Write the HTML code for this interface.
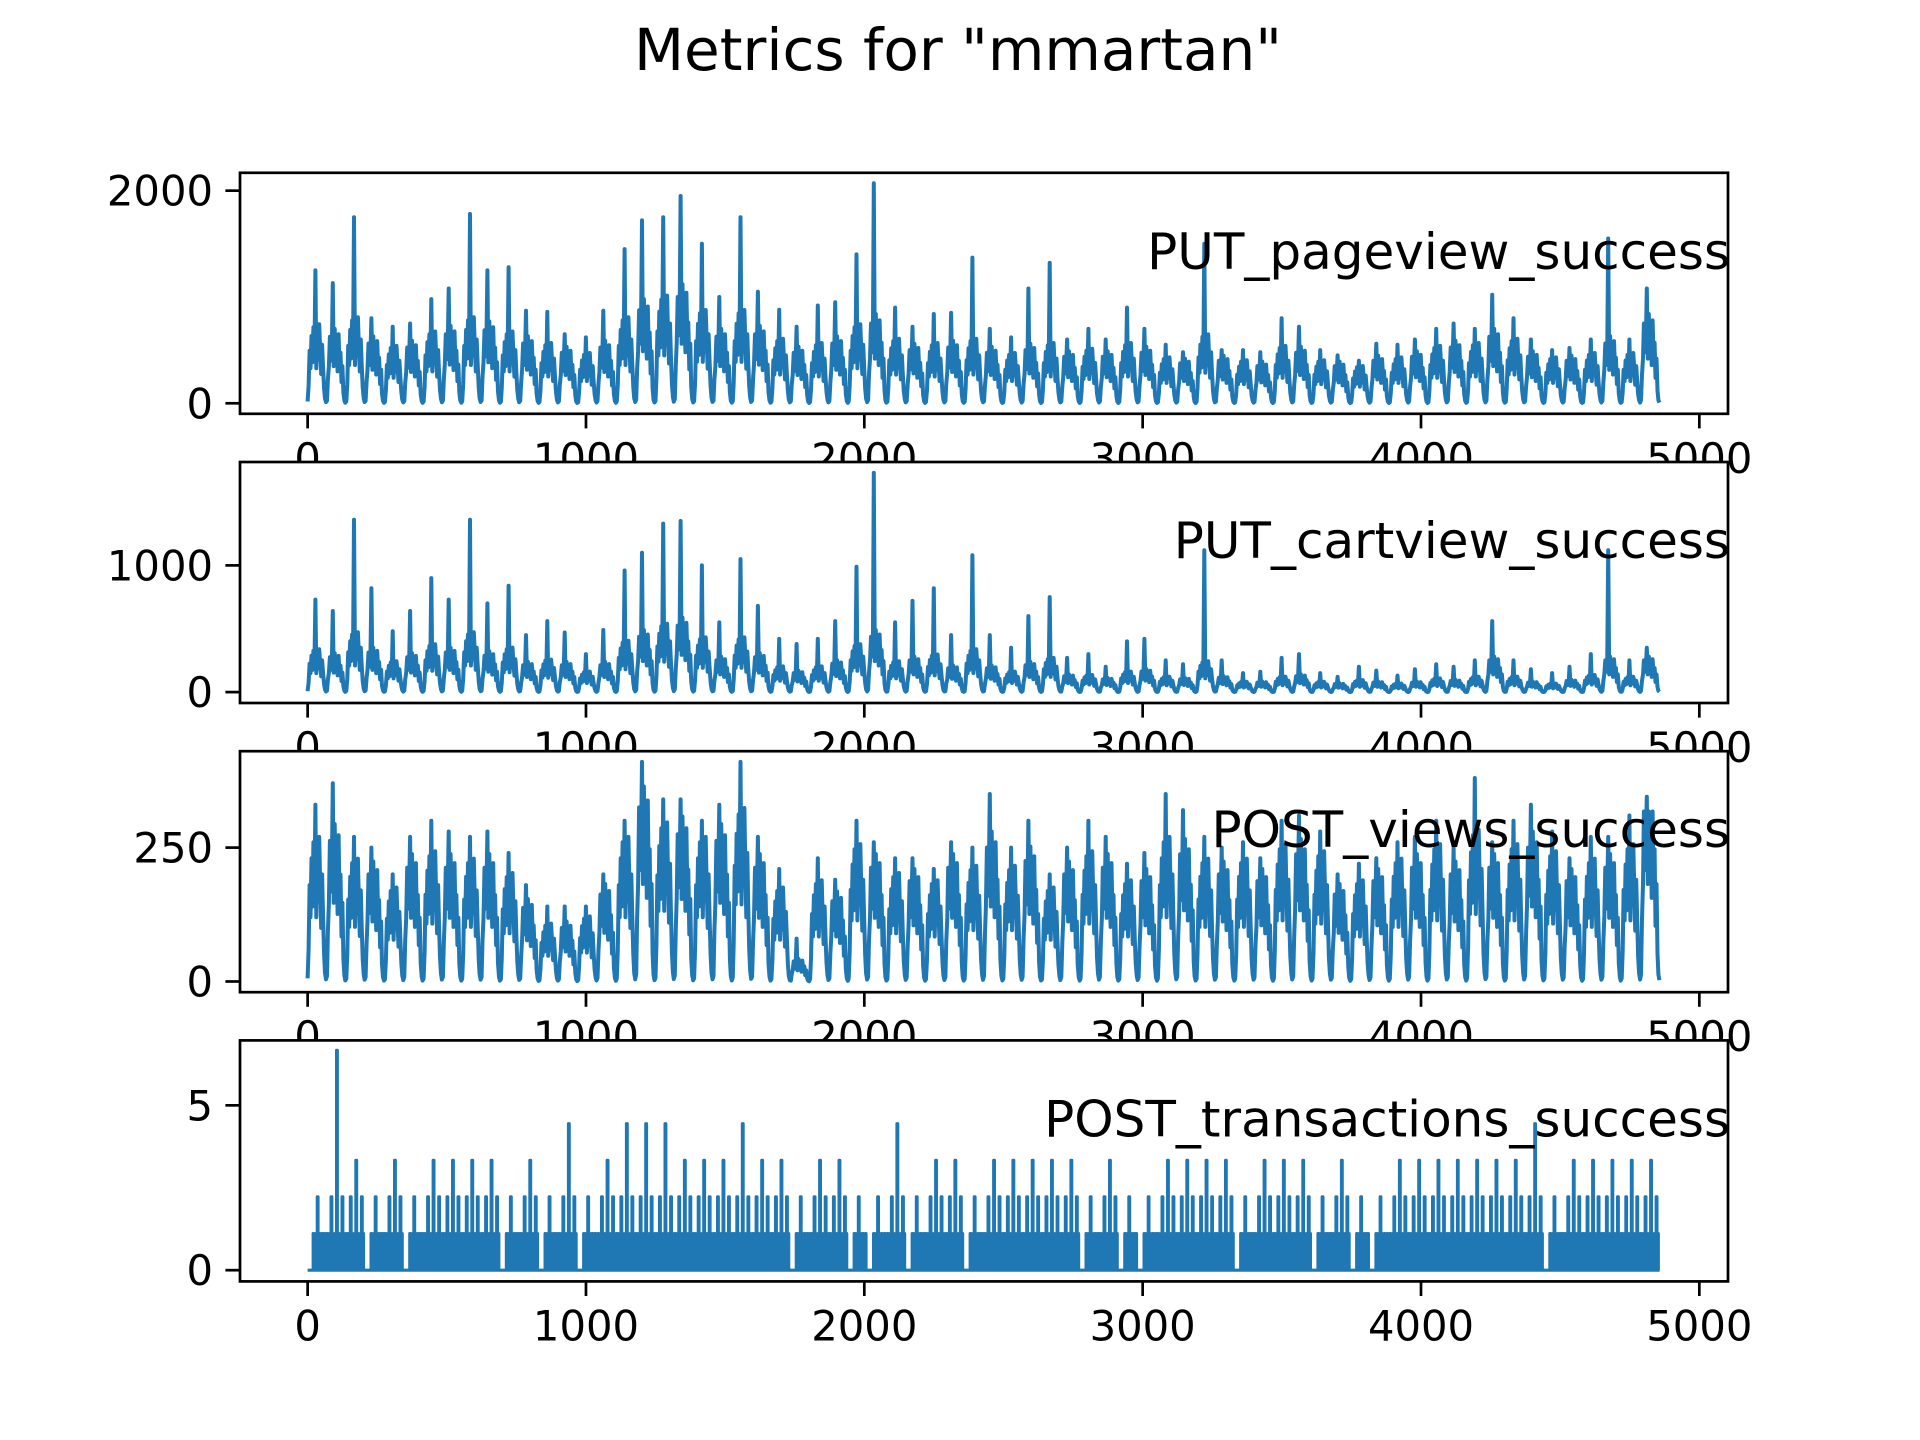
<!DOCTYPE html>
<html><head><meta charset="utf-8"><style>
html,body{margin:0;padding:0;background:#fff;}
svg{display:block;font-family:"DejaVu Sans","Liberation Sans",sans-serif;}
</style></head><body>
<svg id="fig" width="1920" height="1440" viewBox="0 0 1920 1440">
<rect width="1920" height="1440" fill="#fff"/>
<text x="958" y="70" font-size="58" text-anchor="middle">Metrics for "mmartan"</text>
</svg>
<script>
// per-day peaks and typical levels (about 70 daily cycles over 0..4860)
const xMax = 4860;
const xTicks = [0, 1000, 2000, 3000, 4000, 5000];
const pagePeak = [1250,1130,1750,800,720,750,980,1080,1780,1250,1280,870,860,650,620,870,1450,1720,1750,1950,1500,1000,1750,1050,880,720,920,950,1400,2070,900,720,840,850,1370,700,620,1080,1320,600,700,600,900,700,550,480,1500,500,500,480,800,720,500,450,400,560,550,600,700,750,700,1020,800,600,500,520,600,1550,600,1080];
const pageLevel = [550,500,600,450,400,420,500,520,600,550,500,450,420,380,350,420,600,700,750,800,650,500,650,520,450,380,420,450,550,600,450,400,420,420,450,380,350,400,420,350,380,350,420,380,320,300,480,320,300,280,400,380,300,280,260,320,320,350,400,420,420,500,450,350,320,320,350,450,350,600];
const cartPeak = [730,640,1360,820,480,640,900,730,1360,700,840,450,560,470,300,490,960,1100,1330,1350,1000,550,1050,680,420,380,420,560,990,1730,550,720,820,450,1080,450,350,600,750,270,300,200,400,420,250,220,1120,250,150,160,270,300,150,120,200,170,130,180,220,200,250,560,250,180,150,200,300,1120,250,350];
const cartLevel = [250,220,350,250,180,220,280,250,350,230,260,170,190,170,120,170,300,350,400,420,320,200,320,220,150,120,150,180,280,350,180,200,220,150,250,150,120,170,200,100,100,80,120,130,90,80,180,90,60,60,90,100,60,50,70,60,50,60,80,70,90,200,90,60,50,70,100,200,90,200];
const viewPeak = [330,370,270,250,200,270,300,280,270,280,240,180,140,140,140,200,300,410,340,340,300,330,410,270,210,80,230,190,300,260,230,230,210,260,250,350,250,300,200,250,300,270,220,240,350,320,270,250,260,230,300,310,280,200,220,230,260,270,300,250,380,260,300,330,280,230,270,270,310,345];
const viewLevel = [200,210,170,160,130,170,180,170,170,170,150,110,80,80,90,130,200,260,220,220,200,210,240,170,130,30,140,120,190,170,150,150,140,170,160,200,160,180,130,160,180,170,140,150,200,190,170,160,170,150,190,190,180,130,140,150,170,170,190,160,210,170,190,200,180,150,170,170,190,260];
const txMax = [2,6,3,2,3,2,3,3,3,3,2,3,2,4,2,3,4,4,4,3,3,3,4,3,3,2,3,3,2,2,4,2,3,3,2,3,3,3,3,3,2,3,2,2,3,3,3,3,2,3,3,3,2,3,2,2,3,3,3,3,3,3,3,4,2,3,3,3,3,3];
const txUnit = 1.111;

const axesDefs = [
 {name:'pageview', label:'PUT_pageview_success', yMin:-99, yMax:2168, yTicks:[0,2000], peak:pagePeak, level:pageLevel},
 {name:'cartview', label:'PUT_cartview_success', yMin:-86, yMax:1816, yTicks:[0,1000], peak:cartPeak, level:cartLevel},
 {name:'views', label:'POST_views_success', yMin:-20, yMax:430, yTicks:[0,250], peak:viewPeak, level:viewLevel},
 {name:'transactions', label:'POST_transactions_success', yMin:-0.34, yMax:6.97, yTicks:[0,5], tx:txMax}
];
const NS='http://www.w3.org/2000/svg';
const svg=document.getElementById('fig');
const L=240,R=1728,xLo=-243,xHi=5103;
const sx=v=>L+(v-xLo)/(xHi-xLo)*(R-L);
function mk(tag,attrs,parent){const e=document.createElementNS(NS,tag);for(const k in attrs)e.setAttribute(k,attrs[k]);(parent||svg).appendChild(e);return e;}
const H=241,G=48.2,T0=172.8;
// shape of one daily cycle (rendering only); -1 marks the daily peak
const shapeA=[0.03,0.3,0.9,0.6,1.15,0.7,1.3,0.8,-1,0.6,1.2,0.75,1.35,0.9,0.5,1.0,0.6,0.25,0.08,0.02];
const shapeB=[0.05,0.45,0.7,1.25,0.8,1.0,-1,0.7,1.4,0.85,1.1,0.6,1.3,0.7,0.95,0.4,0.7,0.2,0.05,0.01];
axesDefs.forEach((a,i)=>{
  const top=T0+i*(H+G),bot=top+H;
  const sy=v=>bot-(v-a.yMin)/(a.yMax-a.yMin)*H;
  const g=mk('g',{});
  
  
  const bg=mk('rect',{x:L,y:top,width:R-L,height:H,fill:'#fff'},g);
  
  
  const n=a.peak?a.peak.length:a.tx.length;
  const day=xMax/n;
  let d='';
  for(let k=0;k<n;k++){
    if(a.peak){
      const sh=(k%2===0)?shapeA:shapeB;
      for(let j=0;j<sh.length;j++){
        const x=(k+j/sh.length)*day;
        const v=sh[j]<0?a.peak[k]:Math.min(a.peak[k]*0.92,a.level[k]*sh[j]);
        d+=(d?'L':'M')+sx(x).toFixed(1)+' '+sy(v).toFixed(1);
      }
    } else {
      const steps=14;
      for(let j=0;j<steps;j++){
        const x0=(k+j/steps)*day,x1=(k+(j+0.5)/steps)*day;
        let v=(j%2===0)?txUnit:0;
        if(a.tx[k]===2&&j<4)v=0;
        if(j===7)v=a.tx[k]*txUnit;
        if(j===3&&a.tx[k]>2)v=2*txUnit;
        if(j===11&&a.tx[k]>2)v=2*txUnit;
        d+=(d?'L':'M')+sx(x0).toFixed(1)+' '+sy(0).toFixed(1)+'L'+sx(x0).toFixed(1)+' '+sy(v).toFixed(1)+'L'+sx(x1).toFixed(1)+' '+sy(v).toFixed(1)+'L'+sx(x1).toFixed(1)+' '+sy(0).toFixed(1);
      }
    }
  }
  const line=mk('path',{d:d,fill:'none',stroke:'#1f77b4','stroke-width':a.peak?4:3.2,'stroke-linejoin':'round'},g);
  
  
  const fr=mk('rect',{x:L,y:top,width:R-L,height:H,fill:'none',stroke:'#000','stroke-width':2.7},g);
  
  
  a.yTicks.forEach(t=>{
    const y=sy(t);
    const tk=mk('line',{x1:L,x2:L-14.6,y1:y,y2:y,stroke:'#000','stroke-width':2.7},g);
    
    
    const tl=mk('text',{x:L-27,y:y+15,'font-size':41.7,'text-anchor':'end'},g);
    tl.textContent=t;
    
    
  });
  xTicks.forEach(t=>{
    const x=sx(t);
    const tk=mk('line',{x1:x,x2:x,y1:bot,y2:bot+14.6,stroke:'#000','stroke-width':2.7},g);
    
    
    const tl=mk('text',{x:x,y:bot+59,'font-size':41.7,'text-anchor':'middle'},g);
    tl.textContent=t;
    
    
  });
  const lb=mk('text',{x:R+2,y:top+96,'font-size':50,'text-anchor':'end'},g);
  lb.textContent=a.label;
  
  
});
</script>
</body></html>
